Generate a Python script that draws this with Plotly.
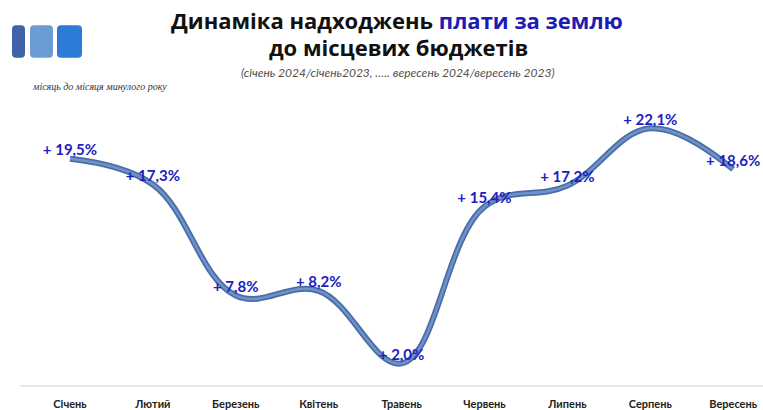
import plotly.graph_objects as go

# Monthly land-fee revenue growth, month vs same month of the previous year (%)
months = ["Січень", "Лютий", "Березень", "Квітень", "Травень",
          "Червень", "Липень", "Серпень", "Вересень"]
growth = [19.5, 17.3, 7.8, 8.2, 2.0, 15.4, 17.2, 22.1, 18.6]
labels = ["+ 19,5%", "+ 17,3%", "+ 7,8%", "+ 8,2%", "+ 2,0%",
          "+ 15,4%", "+ 17,2%", "+ 22,1%", "+ 18,6%"]

W, H = 763, 410
ML, MR, MT, MB = 20, 0, 95, 20
PW, PH = W - ML - MR, H - MT - MB


def px(x):
    return (x - ML) / PW


def py(y):
    return (H - MB - y) / PH


xs = list(range(len(months)))

fig = go.Figure()
# tube-like curve: darker outer stroke with a lighter core
fig.add_trace(go.Scatter(
    x=xs, y=growth, mode="lines",
    line=dict(shape="spline", smoothing=1.1, color="#4a6da8", width=6),
    hoverinfo="skip", showlegend=False))
fig.add_trace(go.Scatter(
    x=xs, y=growth, mode="lines",
    line=dict(shape="spline", smoothing=1.1, color="#6f92c8", width=2.5),
    hoverinfo="skip", showlegend=False))
fig.add_trace(go.Scatter(
    x=xs, y=growth, mode="text", text=[f"<b>{t}</b>" for t in labels],
    textposition="top center",
    textfont=dict(family="Lato", size=15, color="#2020c0"),
    hoverinfo="skip", showlegend=False))

annotations = [
    dict(text="<b>Динаміка надходжень <span style='color:#1c1cb4'>плати за землю</span></b>",
         x=px(397), y=py(19), font=dict(family="Open Sans", size=22, color="#111111")),
    dict(text="<b>до місцевих бюджетів</b>",
         x=px(398), y=py(46), font=dict(family="Open Sans", size=22, color="#111111")),
    dict(text="<i>(січень 2024/січень2023, ….. вересень 2024/вересень 2023)</i>",
         x=px(398), y=py(72), font=dict(family="Lato", size=12, color="#505050")),
    dict(text="<i>місяць до місяця минулого року</i>",
         x=px(30), y=py(86), xanchor="left",
         font=dict(family="Liberation Serif", size=10, color="#333333")),
]
for a in annotations:
    a.setdefault("xanchor", "center")
    a.update(xref="paper", yref="paper", yanchor="middle", showarrow=False)

# logo: three rounded blocks
logo = [(12, 25, "#3f62a8"), (30, 53, "#6b9dd4"), (57, 82, "#2d7bd6")]
shapes = []
for x0, x1, c in logo:
    r = 4
    y0, y1 = 24, 57
    path = (f"M {px(x0 + r)},{py(y0)} L {px(x1 - r)},{py(y0)} "
            f"Q {px(x1)},{py(y0)} {px(x1)},{py(y0 + r)} "
            f"L {px(x1)},{py(y1 - r)} Q {px(x1)},{py(y1)} {px(x1 - r)},{py(y1)} "
            f"L {px(x0 + r)},{py(y1)} Q {px(x0)},{py(y1)} {px(x0)},{py(y1 - r)} "
            f"L {px(x0)},{py(y0 + r)} Q {px(x0)},{py(y0)} {px(x0 + r)},{py(y0)} Z")
    shapes.append(dict(type="path", path=path, xref="paper", yref="paper",
                       fillcolor=c, line=dict(width=0), layer="above"))

fig.update_layout(
    width=W, height=H,
    margin=dict(l=ML, r=MR, t=MT, b=MB),
    paper_bgcolor="white", plot_bgcolor="white",
    annotations=annotations, shapes=shapes,
    xaxis=dict(range=[-0.603, 8.36], tickmode="array", tickvals=xs,
               ticktext=[f"<b>{m}</b>" for m in months],
               tickfont=dict(family="Lato", size=11, color="#222222"),
               showgrid=False, zeroline=False, showline=True,
               linecolor="#e8e8e8", linewidth=2, ticks="",
               ticklabelstandoff=8, fixedrange=True),
    yaxis=dict(range=[0.15, 24.95], visible=False, showgrid=False,
               zeroline=False, fixedrange=True),
)

fig.write_html("out.html", config={"displayModeBar": False})
